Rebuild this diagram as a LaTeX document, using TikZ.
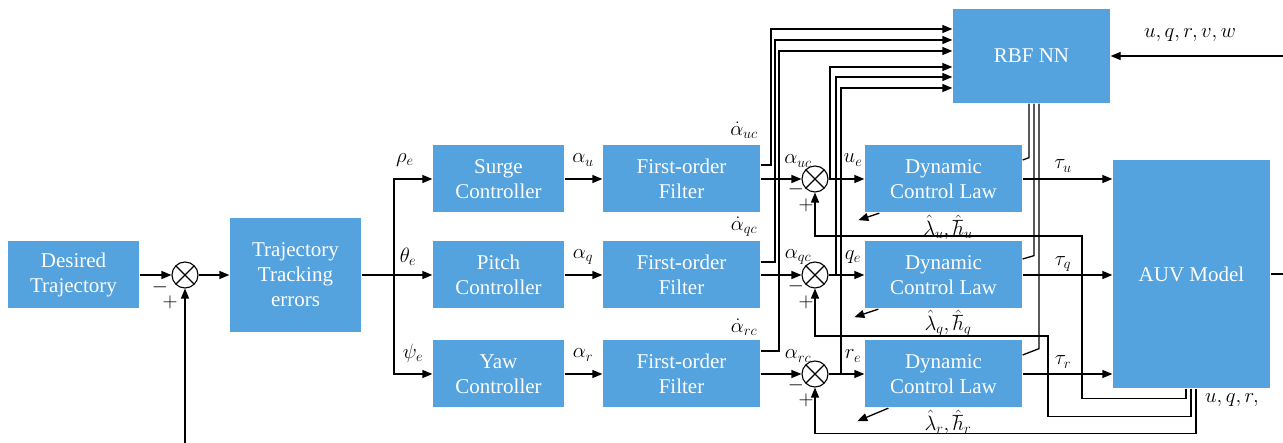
\documentclass[tikz,border=0pt]{standalone}
\usepackage{fontspec}
\setmainfont{Liberation Serif}
\usetikzlibrary{arrows.meta}
\definecolor{boxblue}{RGB}{84,162,222}
\begin{document}
\begin{tikzpicture}[x=1pt,y=-1pt,
  line width=1.3pt,
  arr/.style={-{Triangle[length=10pt,width=8pt]}},
  blk/.style={fill=boxblue,text=white,font=\fontsize{21}{25}\selectfont,align=center,inner sep=0pt},
  sumc/.style={circle,draw,fill=white,minimum size=26pt,inner sep=0pt,line width=1.1pt,
    path picture={\draw[line width=1.1pt] (path picture bounding box.north west)--(path picture bounding box.south east)
      (path picture bounding box.north east)--(path picture bounding box.south west);}},
  lab/.style={inner sep=0pt,font=\fontsize{20}{22}\selectfont},
  sgn/.style={inner sep=0pt,font=\fontsize{20}{22}\selectfont}]
\useasboundingbox (0,0) rectangle (1283,443);

% blocks
\node[blk,minimum width=131pt,minimum height=67pt] (des) at (73.5,275) {Desired\\Trajectory};
\node[blk,minimum width=131pt,minimum height=114pt] (tte) at (295.5,275) {Trajectory\\Tracking\\errors};
\node[blk,minimum width=131pt,minimum height=67pt] (surge) at (498.5,179) {Surge\\Controller};
\node[blk,minimum width=131pt,minimum height=67pt] (pitch) at (498.5,275) {Pitch\\Controller};
\node[blk,minimum width=131pt,minimum height=67pt] (yaw) at (498.5,374) {Yaw\\Controller};
\node[blk,minimum width=157pt,minimum height=67pt] (filtu) at (681.5,179) {First-order\\Filter};
\node[blk,minimum width=157pt,minimum height=67pt] (filtq) at (681.5,275) {First-order\\Filter};
\node[blk,minimum width=157pt,minimum height=67pt] (filtr) at (681.5,374) {First-order\\Filter};
\node[blk,minimum width=157pt,minimum height=67pt] (dclu) at (943.5,179) {Dynamic\\Control Law};
\node[blk,minimum width=157pt,minimum height=67pt] (dclq) at (943.5,275) {Dynamic\\Control Law};
\node[blk,minimum width=157pt,minimum height=67pt] (dclr) at (943.5,374) {Dynamic\\Control Law};
\node[blk,minimum width=157pt,minimum height=94pt] (rbf) at (1031.5,56) {RBF NN};
\node[blk,minimum width=157pt,minimum height=228pt] (auv) at (1191.5,274) {AUV Model};

% labels
\node[lab] at (405,160) {$\rho_e$};
\node[lab] at (408,257) {$\theta_e$};
\node[lab] at (413,353) {$\psi_e$};
\node[lab] at (583,160) {$\alpha_u$};
\node[lab] at (583,257) {$\alpha_q$};
\node[lab] at (583,355) {$\alpha_r$};
\node[lab] at (744,130) {$\dot{\alpha}_{uc}$};
\node[lab] at (744,227) {$\dot{\alpha}_{qc}$};
\node[lab] at (744,327) {$\dot{\alpha}_{rc}$};
\node[lab] at (798,161) {$\alpha_{uc}$};
\node[lab] at (798,257) {$\alpha_{qc}$};
\node[lab] at (798,356) {$\alpha_{rc}$};
\node[lab] at (853,160) {$u_e$};
\node[lab] at (853,257) {$q_e$};
\node[lab] at (853,356) {$r_e$};
\node[lab] at (1063,166) {$\tau_u$};
\node[lab] at (1063,264) {$\tau_q$};
\node[lab] at (1063,362) {$\tau_r$};
\node[lab] at (948,227) {$\hat{\lambda}_u,\hat{\hbar}_u$};
\node[lab] at (948,323) {$\hat{\lambda}_q,\hat{\hbar}_q$};
\node[lab] at (948,422) {$\hat{\lambda}_r,\hat{\hbar}_r$};
\node[lab] at (1190,35) {$u,q,r,v,w$};
\node[lab] at (1232,400) {$u,q,r,$};

% summing junctions
\node[sumc] (s1) at (185,275) {};
\node[sumc] (su) at (815,179) {};
\node[sumc] (sq) at (815,275) {};
\node[sumc] (sr) at (815,374) {};
\node[sgn] at (160,287) {$-$};
\node[sgn] at (170,302) {$+$};
\node[sgn] at (796,189) {$-$};
\node[sgn] at (806,205) {$+$};
\node[sgn] at (796,286) {$-$};
\node[sgn] at (806,302) {$+$};
\node[sgn] at (796,385) {$-$};
\node[sgn] at (806,400) {$+$};

% coordinates
\coordinate (fb1) at (185,443);
\coordinate (sp) at (394,275);
\coordinate (tu) at (830,179);
\coordinate (tq) at (836,275);
\coordinate (tr) at (841,374);
\coordinate (inr) at (1283,56);
\coordinate (outr) at (1283,274);

% main chain
\draw[arr] (des) -- (s1);
\draw[arr] (fb1) -- (s1.south);
\draw[arr] (s1) -- (tte);
\draw (tte) -- (sp);
\draw[arr] (sp) -- (pitch);
\draw[arr] (sp) |- (surge.west);
\draw[arr] (sp) |- (yaw.west);
\draw[arr] (surge) -- (filtu);
\draw[arr] (pitch) -- (filtq);
\draw[arr] (yaw) -- (filtr);
\draw[arr] (filtu) -- (su);
\draw[arr] (filtq) -- (sq);
\draw[arr] (filtr) -- (sr);
\draw[arr] (su) -- (dclu);
\draw[arr] (sq) -- (dclq);
\draw[arr] (sr) -- (dclr);
\draw[arr] (dclu.east) -- (dclu.east -| auv.west);
\draw[arr] (dclq.east) -- (dclq.east -| auv.west);
\draw[arr] (dclr.east) -- (dclr.east -| auv.west);
\draw[arr] (inr) -- (rbf.east);
\draw (auv.east |- outr) -- (outr);

% filter derivative outputs to RBF
\draw[arr] ([yshift=14pt]filtu.east) -| (771,29) -- ([yshift=27pt]rbf.west);
\draw[arr] ([yshift=13pt]filtq.east) -| (775,40) -- ([yshift=16pt]rbf.west);
\draw[arr] ([yshift=23pt]filtr.east) -| (779,51) -- ([yshift=5pt]rbf.west);
% error taps to RBF
\draw[arr] (tu) |- ([yshift=-11pt]rbf.west);
\draw[arr] (tq) |- ([yshift=-21pt]rbf.west);
\draw[arr] (tr) |- ([yshift=-32pt]rbf.west);

% RBF outputs to control laws
\draw ([xshift=-2.5pt]rbf.south) -- ++(0,54) -- ([yshift=19pt]dclu.east);
\draw ([xshift=2.5pt]rbf.south) -- ++(0,152) -- ([yshift=16pt]dclq.east);
\draw ([xshift=7.5pt]rbf.south) -- ++(0,245) -- ([yshift=19pt]dclr.east);

% adaptive estimate arrows
\draw[arr] ([xshift=15pt]dclu.south west) -- ++(-21,7);
\draw[arr] ([xshift=14pt]dclq.south west) -- ++(-24,8);
\draw[arr] ([xshift=24pt]dclr.south west) -- ++(-31,13);

% state feedback
\draw[arr] ([xshift=-5.5pt]auv.south) -- ++(0,10) -| (1082,236) -| (su.south);
\draw[arr] ([xshift=-0.5pt]auv.south) -- ++(0,28) -| (1048,336) -| (sq.south);
\draw[arr] ([xshift=4.5pt]auv.south) -- ++(0,45) -| (sr.south);
\end{tikzpicture}
\end{document}
